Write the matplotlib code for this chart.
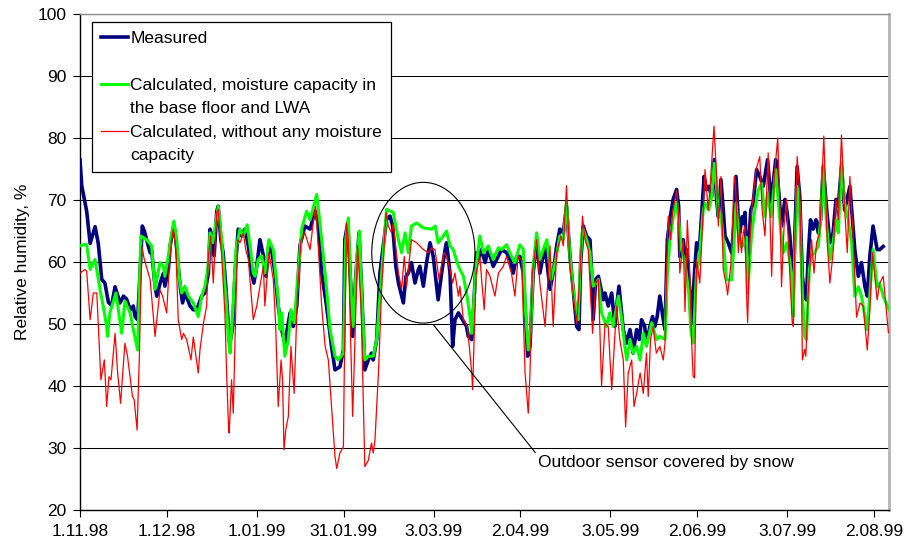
import numpy as np
import pandas as pd
import matplotlib
matplotlib.use("Agg")
import matplotlib.pyplot as plt
import matplotlib.dates as mdates
from matplotlib.patches import Ellipse
from matplotlib.lines import Line2D

plt.rcParams['font.family'] = ['Liberation Sans', 'DejaVu Sans']
FS = 12.5

# ---------------- data (days after 1.11.1998, relative humidity %) ----------------
start_date = "1998-11-01"

meas_day = [0.0, 0.6, 2.3, 3.5, 5.2, 6.3, 7.5, 8.6, 9.8, 10.9, 12.1, 13.8, 15.0, 16.1, 17.3, 18.4, 19.0, 19.9, 20.7, 21.5,
            22.2, 23.0, 24.2, 24.7, 25.9, 26.5, 27.6, 28.8, 29.3, 30.5, 31.1, 32.4, 33.1, 33.9, 34.7, 35.4, 36.2, 38.0, 39.1, 40.3,
            42.0, 43.1, 44.3, 44.9, 45.8, 46.3, 47.2, 47.7, 48.6, 49.4, 50.4, 51.2, 52.0, 52.7, 53.5, 54.6, 55.8, 56.9, 58.1, 59.2,
            60.0, 61.0, 62.1, 63.3, 64.2, 65.2, 66.1, 67.3, 68.4, 69.6, 70.7, 71.3, 72.5, 73.6, 74.8, 75.9, 77.6, 79.4, 81.1, 82.2,
            83.4, 85.1, 86.8, 88.0, 89.7, 90.9, 91.4, 92.4, 93.5, 94.1, 95.1, 96.3, 97.2, 98.3, 99.5, 100.6, 101.2, 102.4, 103.5, 105.8,
            107.0, 107.9, 109.0, 109.9, 111.6, 112.5, 113.3, 114.4, 115.6, 116.8, 117.3, 118.5, 119.6, 120.8, 121.9, 123.6, 124.8, 126.0, 126.5, 127.7,
            128.6, 129.4, 130.6, 133.4, 134.0, 135.2, 136.9, 137.5, 138.6, 139.8, 140.9, 142.6, 143.8, 145.5, 147.2, 148.4, 149.5, 150.7, 151.8, 153.0,
            154.5, 155.3, 156.4, 157.6, 158.7, 160.5, 162.2, 163.3, 164.5, 165.6, 166.8, 167.9, 169.1, 170.2, 171.4, 172.2, 172.8, 173.7, 174.8, 176.0,
            176.6, 177.1, 178.0, 178.9, 179.4, 180.6, 181.2, 182.3, 183.5, 184.6, 185.2, 186.0, 186.7, 187.5, 188.6, 189.8, 190.4, 190.9, 192.1, 193.0,
            193.8, 194.9, 195.5, 196.7, 197.6, 198.4, 199.2, 200.1, 201.3, 201.9, 202.7, 203.6, 204.7, 205.9, 206.6, 207.0, 208.2, 208.9, 209.3, 210.5,
            211.1, 212.0, 212.8, 213.4, 213.9, 215.4, 216.2, 217.0, 218.0, 218.9, 219.7, 220.3, 221.2, 222.0, 222.6, 223.7, 224.9, 225.8, 226.4, 227.2,
            227.7, 228.5, 228.9, 229.5, 230.0, 230.4, 231.5, 232.3, 233.5, 234.6, 235.8, 237.3, 238.5, 240.1, 240.7, 242.1, 243.3, 243.9, 245.0, 245.5,
            246.2, 246.8, 247.5, 248.4, 249.3, 250.1, 250.7, 251.3, 252.1, 253.0, 254.0, 254.8, 255.6, 256.5, 257.7, 258.8, 259.9, 260.9, 261.7, 262.8,
            263.9, 265.7, 267.4, 268.6, 269.7, 270.9, 271.7, 272.6, 273.7, 275.1, 276.0, 277.2]
meas_rh = [76.5, 72.3, 68.2, 63.0, 65.7, 63.0, 57.2, 56.6, 53.5, 53.0, 56.0, 53.4, 54.5, 54.0, 52.3, 52.9, 51.2, 50.7, 58.0, 65.8,
           65.0, 63.6, 61.5, 62.0, 56.0, 54.5, 56.5, 58.2, 56.1, 58.8, 62.6, 66.0, 63.6, 59.3, 55.6, 53.4, 55.0, 52.9, 52.3, 52.3,
           54.5, 55.0, 58.2, 65.3, 63.6, 61.0, 68.2, 69.0, 63.6, 61.5, 55.6, 49.6, 47.5, 49.6, 58.2, 65.3, 64.2, 65.3, 62.6, 58.2,
           56.6, 59.3, 63.6, 61.0, 57.7, 63.1, 62.0, 58.2, 52.9, 49.1, 46.9, 48.5, 51.8, 49.6, 52.9, 62.6, 65.8, 65.3, 68.2, 66.3,
           58.2, 52.9, 46.4, 42.6, 43.1, 45.8, 63.6, 66.3, 55.6, 48.0, 57.2, 64.7, 55.6, 42.6, 44.2, 45.3, 44.2, 47.5, 58.2, 66.9,
           67.4, 65.8, 59.3, 56.6, 53.4, 57.7, 58.2, 59.9, 56.6, 58.8, 59.3, 56.1, 59.9, 63.1, 60.9, 53.9, 58.2, 62.0, 63.1, 58.2,
           46.4, 50.7, 51.8, 49.6, 48.0, 47.5, 61.5, 60.4, 62.0, 59.9, 62.0, 59.3, 60.4, 62.0, 61.5, 60.4, 58.2, 60.9, 60.9, 58.2,
           44.8, 46.4, 58.2, 63.6, 58.2, 62.6, 55.6, 58.2, 62.6, 65.3, 64.7, 69.0, 60.9, 55.6, 49.6, 49.1, 60.0, 65.8, 64.2, 63.6,
           58.2, 50.7, 57.2, 57.7, 56.6, 53.9, 55.0, 52.9, 55.0, 49.6, 52.9, 56.1, 52.9, 49.1, 46.9, 49.1, 47.5, 45.3, 49.1, 47.5,
           50.7, 49.6, 46.9, 49.6, 51.2, 49.6, 51.2, 54.5, 50.7, 49.1, 63.6, 66.9, 70.1, 71.7, 69.0, 60.9, 63.6, 60.4, 62.0, 55.0,
           50.2, 57.7, 63.1, 62.0, 63.1, 73.8, 71.7, 72.2, 70.6, 76.5, 70.1, 67.3, 73.3, 68.4, 64.2, 63.1, 61.5, 66.8, 73.8, 66.8,
           64.7, 67.3, 66.3, 68.0, 62.0, 59.3, 68.4, 69.5, 74.9, 73.8, 72.2, 76.5, 69.5, 76.5, 73.8, 65.8, 70.1, 68.4, 64.2, 60.0,
           56.0, 65.8, 75.4, 70.6, 57.7, 54.5, 53.9, 60.9, 66.8, 65.3, 66.8, 64.7, 66.8, 75.4, 68.4, 63.1, 64.7, 70.1, 69.0, 75.4,
           68.4, 72.2, 62.0, 57.7, 59.9, 56.0, 54.5, 61.0, 65.8, 62.0, 62.0, 62.5]

cap_day = [0.0, 1.3, 2.3, 3.5, 5.2, 6.9, 8.0, 9.2, 9.5, 10.3, 12.4, 14.4, 15.5, 17.3, 18.4, 19.9, 21.0, 23.0, 24.7, 25.9,
           27.6, 28.8, 29.3, 30.5, 31.3, 32.4, 33.4, 34.3, 35.1, 36.2, 37.4, 39.1, 40.8, 42.0, 43.1, 44.1, 44.9, 45.8, 47.7, 48.9,
           49.7, 50.6, 51.2, 51.8, 52.7, 53.8, 55.2, 56.4, 57.7, 58.7, 59.8, 60.4, 61.5, 62.7, 63.8, 65.2, 66.7, 68.4, 69.0, 69.6,
           70.7, 71.9, 72.8, 73.9, 75.3, 76.5, 78.2, 79.4, 81.7, 82.8, 84.0, 85.1, 86.3, 88.0, 89.1, 90.9, 91.7, 92.6, 93.5, 94.3,
           95.5, 96.4, 97.4, 98.3, 99.5, 101.2, 102.4, 104.1, 105.8, 107.0, 108.1, 109.9, 111.0, 112.2, 113.3, 114.4, 116.2, 118.5, 121.4, 122.6,
           123.6, 125.4, 126.5, 127.7, 128.8, 130.6, 132.3, 133.4, 134.6, 135.2, 136.7, 138.0, 139.2, 140.9, 142.6, 144.4, 145.5, 147.2, 148.9, 150.1,
           151.8, 153.0, 153.8, 154.7, 155.6, 156.4, 157.6, 158.7, 161.1, 162.6, 164.0, 165.6, 166.8, 167.9, 169.1, 170.2, 171.4, 171.9, 172.6, 173.2,
           173.7, 174.8, 176.0, 177.1, 178.3, 178.9, 180.0, 181.7, 182.8, 184.0, 185.8, 187.0, 188.0, 188.7, 189.8, 190.9, 192.1, 193.3, 194.4, 195.5,
           197.3, 199.0, 200.1, 201.9, 202.7, 203.6, 205.3, 205.9, 206.8, 207.6, 208.8, 210.1, 210.8, 211.6, 212.8, 213.6, 215.1, 215.7, 217.0, 218.0,
           218.9, 219.7, 220.3, 221.2, 222.3, 223.1, 224.9, 225.8, 226.4, 227.2, 228.3, 229.2, 230.0, 230.4, 231.8, 232.9, 234.1, 235.2, 236.4, 237.3,
           238.5, 240.1, 241.7, 242.7, 243.9, 245.0, 245.6, 246.2, 246.7, 247.5, 248.4, 249.3, 250.1, 250.7, 251.7, 252.5, 253.5, 254.8, 255.6, 256.5,
           257.7, 258.8, 259.9, 260.9, 261.7, 262.8, 263.9, 265.1, 266.3, 267.4, 268.6, 269.7, 270.9, 271.7, 272.6, 273.7, 275.1, 276.0, 277.2, 279.2]
cap_rh = [62.6, 62.8, 62.8, 58.8, 60.4, 55.6, 52.9, 49.6, 48.0, 51.8, 55.0, 48.5, 53.7, 51.8, 49.1, 45.8, 64.2, 63.6, 62.6, 55.6,
          59.9, 59.3, 57.7, 61.0, 63.6, 66.6, 63.6, 57.2, 55.0, 56.1, 54.5, 53.4, 51.2, 54.5, 56.1, 58.8, 64.7, 63.1, 69.0, 63.6,
          58.2, 52.9, 47.5, 45.3, 51.8, 62.0, 65.3, 64.2, 66.0, 62.6, 58.2, 57.7, 60.4, 61.0, 58.2, 63.6, 62.0, 54.0, 49.1, 51.8,
          44.8, 47.5, 52.3, 50.2, 58.2, 65.3, 68.2, 66.8, 70.9, 66.3, 60.9, 55.6, 49.1, 44.8, 44.2, 45.3, 63.6, 67.1, 55.6, 49.6,
          60.4, 65.0, 52.9, 44.2, 44.8, 44.8, 47.5, 58.2, 68.5, 68.2, 68.0, 63.6, 61.5, 64.7, 61.5, 65.8, 66.3, 65.5, 65.3, 65.8,
          63.1, 64.2, 65.0, 62.6, 62.0, 59.3, 57.7, 55.0, 51.2, 48.5, 59.3, 64.2, 61.5, 62.6, 60.4, 62.3, 62.0, 62.8, 60.9, 59.9,
          62.8, 62.0, 51.8, 45.8, 49.6, 59.3, 64.7, 60.4, 63.6, 57.2, 59.9, 64.2, 63.6, 69.6, 60.9, 55.6, 51.8, 50.7, 59.0, 64.5,
          65.3, 63.6, 61.5, 56.1, 56.6, 57.2, 51.8, 49.6, 51.8, 49.6, 54.5, 50.7, 46.4, 44.2, 47.5, 45.3, 46.4, 44.2, 48.5, 46.4,
          50.2, 47.5, 48.0, 47.5, 58.2, 63.6, 69.0, 69.6, 65.8, 62.0, 59.9, 55.0, 49.1, 46.9, 58.8, 59.9, 68.4, 69.5, 68.4, 70.6,
          75.9, 72.2, 67.3, 67.8, 61.9, 57.1, 57.1, 63.6, 69.5, 65.1, 62.4, 62.9, 64.0, 55.0, 64.7, 68.4, 71.6, 72.7, 67.3, 71.1,
          67.3, 74.9, 65.8, 61.5, 63.1, 60.0, 57.7, 51.2, 62.0, 72.2, 68.4, 55.0, 48.0, 47.5, 58.8, 61.0, 61.5, 62.6, 66.8, 75.4,
          65.8, 60.4, 63.1, 66.8, 64.7, 76.0, 69.5, 66.8, 63.1, 54.5, 56.0, 54.5, 51.2, 49.1, 55.0, 62.0, 56.0, 56.6, 54.5, 52.3]

nocap_day = [0.0, 1.7, 2.3, 3.5, 4.6, 5.8, 7.2, 8.4, 9.2, 10.0, 10.7, 12.1, 13.0, 14.0, 15.5, 16.4, 18.1, 18.7, 19.7, 20.5,
             21.3, 22.2, 23.6, 24.2, 25.9, 27.6, 28.5, 29.9, 30.8, 31.6, 32.2, 33.1, 33.9, 35.1, 35.7, 36.8, 38.3, 39.1, 40.8, 41.4,
             42.6, 43.7, 44.3, 45.1, 46.0, 47.2, 47.7, 48.9, 50.0, 50.6, 51.3, 51.5, 52.3, 52.9, 53.5, 54.4, 55.2, 56.4, 57.2, 58.1,
             59.8, 61.0, 62.1, 63.3, 63.8, 65.2, 66.7, 67.5, 68.4, 69.4, 69.9, 70.4, 71.0, 71.9, 72.8, 73.9, 75.1, 76.3, 77.6, 79.4,
             80.5, 81.3, 82.3, 83.4, 84.6, 85.7, 86.8, 88.0, 88.6, 89.7, 90.9, 91.2, 92.0, 92.6, 93.4, 94.1, 94.9, 95.8, 97.0, 98.3,
             99.5, 100.6, 101.2, 101.8, 103.0, 104.1, 105.6, 106.4, 107.5, 108.1, 109.9, 111.0, 111.9, 112.7, 114.4, 116.2, 118.5, 120.2, 121.4, 122.5,
             123.9, 125.6, 126.5, 127.7, 128.6, 129.4, 130.6, 131.1, 132.3, 133.7, 135.2, 135.5, 136.7, 138.0, 138.6, 139.5, 140.3, 141.5, 143.2, 144.4,
             146.1, 147.2, 148.9, 150.1, 151.2, 152.4, 153.6, 154.7, 155.3, 156.1, 157.6, 158.7, 160.5, 162.2, 163.3, 164.5, 166.0, 166.8, 167.9, 169.1,
             170.2, 171.4, 172.6, 173.4, 174.3, 175.4, 176.9, 178.0, 178.9, 180.0, 181.2, 182.3, 183.5, 185.2, 186.3, 187.5, 188.3, 189.2, 190.4, 191.2,
             192.1, 193.3, 194.4, 195.5, 196.1, 196.9, 197.8, 198.9, 200.1, 201.3, 201.9, 202.7, 203.0, 203.8, 204.5, 205.9, 206.6, 207.0, 208.2, 208.8,
             209.6, 210.5, 211.1, 211.6, 212.1, 212.8, 213.9, 215.1, 215.7, 216.8, 217.4, 218.8, 219.7, 220.3, 221.2, 222.0, 223.1, 223.5, 224.6, 225.8,
             226.2, 227.2, 227.7, 228.3, 228.9, 229.5, 230.0, 230.4, 231.2, 231.8, 233.3, 234.6, 235.4, 236.4, 237.5, 238.7, 239.6, 240.8, 241.6, 242.1,
             243.0, 243.8, 245.0, 245.8, 246.2, 246.7, 247.5, 248.4, 248.9, 249.3, 250.1, 250.5, 251.3, 252.5, 253.3, 254.2, 255.3, 256.7, 257.9, 258.8,
             259.9, 260.9, 261.7, 262.8, 263.9, 264.8, 265.7, 266.9, 268.0, 269.2, 270.3, 271.7, 272.6, 273.5, 275.1, 276.0, 277.2, 279.0]
nocap_rh = [58.2, 58.8, 58.5, 50.7, 55.0, 55.0, 41.0, 44.2, 36.7, 41.5, 41.0, 48.5, 42.1, 37.2, 46.9, 44.8, 38.3, 37.8, 32.9, 45.0,
            62.6, 60.4, 58.2, 57.2, 48.0, 55.5, 54.5, 51.8, 59.3, 63.6, 65.3, 62.0, 50.7, 47.5, 48.5, 47.5, 44.2, 47.9, 42.1, 45.8,
            50.1, 52.9, 61.0, 64.2, 56.6, 68.0, 68.5, 61.0, 51.8, 42.1, 32.9, 32.4, 41.0, 35.6, 47.5, 63.6, 63.1, 64.7, 62.0, 60.4,
            50.7, 52.9, 56.1, 59.3, 52.9, 61.5, 57.2, 50.1, 36.7, 44.2, 41.0, 29.7, 32.9, 35.1, 46.4, 38.8, 55.6, 63.6, 64.7, 62.0,
            66.3, 69.0, 62.0, 52.9, 46.4, 44.2, 36.7, 28.6, 26.7, 29.2, 30.2, 42.1, 66.3, 63.6, 47.5, 35.1, 47.5, 62.6, 52.9, 27.0,
            28.0, 30.8, 29.2, 31.3, 42.1, 55.6, 68.0, 65.8, 64.7, 66.3, 58.2, 55.6, 60.9, 56.1, 63.6, 63.1, 62.0, 61.5, 62.3, 62.0,
            57.2, 61.5, 60.9, 58.8, 56.6, 58.2, 54.5, 56.1, 50.7, 49.6, 42.1, 39.4, 58.2, 60.9, 57.2, 52.3, 58.8, 57.7, 54.5, 58.2,
            59.3, 60.9, 58.2, 54.5, 60.9, 60.4, 42.1, 35.6, 42.1, 58.2, 63.6, 56.6, 49.6, 62.6, 49.6, 61.5, 64.2, 62.6, 72.3, 59.3,
            55.0, 50.1, 58.2, 67.4, 63.6, 62.0, 48.5, 56.6, 57.2, 40.0, 50.1, 49.6, 39.4, 52.9, 47.5, 44.2, 33.4, 42.1, 44.2, 36.7,
            38.8, 42.1, 38.8, 45.3, 38.3, 47.5, 49.6, 45.3, 46.4, 44.2, 47.0, 63.6, 67.4, 63.6, 68.0, 71.5, 67.4, 58.2, 63.6, 52.0,
            66.7, 57.7, 46.9, 41.6, 41.3, 60.4, 56.6, 68.4, 74.9, 68.4, 71.6, 81.9, 73.8, 65.8, 73.8, 58.8, 56.2, 54.7, 59.5, 73.8,
            72.7, 61.5, 65.8, 61.5, 64.7, 65.8, 55.5, 50.2, 63.1, 68.4, 74.9, 77.0, 68.4, 64.2, 77.6, 57.7, 73.8, 80.0, 68.4, 56.0,
            65.8, 70.1, 57.7, 50.2, 49.6, 63.1, 77.0, 71.1, 60.4, 44.2, 45.9, 44.8, 55.0, 63.6, 58.2, 63.1, 64.7, 80.3, 63.1, 56.6,
            61.5, 70.1, 66.8, 80.5, 68.4, 61.5, 73.8, 63.1, 51.1, 53.4, 52.9, 45.8, 52.3, 61.5, 53.9, 56.6, 57.7, 48.6]

tick_dates = ["1998-11-01", "1998-12-01", "1999-01-01", "1999-01-31", "1999-03-03",
              "1999-04-02", "1999-05-03", "1999-06-02", "1999-07-03", "1999-08-02"]
tick_labels = ["1.11.98", "1.12.98", "1.01.99", "31.01.99", "3.03.99",
               "2.04.99", "3.05.99", "2.06.99", "3.07.99", "2.08.99"]
y_ticks = [20, 30, 40, 50, 60, 70, 80, 90, 100]

series_labels = ["Measured",
                 "Calculated, moisture capacity in",
                 "the base floor and LWA",
                 "Calculated, without any moisture",
                 "capacity"]
annotation_text = "Outdoor sensor covered by snow"

# ---------------- helpers ----------------
t0 = pd.Timestamp(start_date)


def to_dates(days):
    return t0 + pd.to_timedelta(np.asarray(days, dtype=float), unit="D")


def dnum(day):
    return mdates.date2num(t0 + pd.Timedelta(days=day))


# ---------------- figure ----------------
fig = plt.figure(figsize=(9.06, 5.5), dpi=100)
ax = fig.add_axes([80 / 906, 40 / 550, 809 / 906, 496 / 550])

l_meas, = ax.plot(to_dates(meas_day), meas_rh, color="#000080", lw=2.6, zorder=3,
                  solid_joinstyle="round")
l_cap, = ax.plot(to_dates(cap_day), cap_rh, color="#00FF00", lw=2.2, zorder=4,
                 solid_joinstyle="round")
l_nocap, = ax.plot(to_dates(nocap_day), nocap_rh, color="#FF0000", lw=0.9, zorder=5)

ax.set_xlim(dnum(0), dnum(279.2))
ax.set_ylim(20, 100)
ax.set_yticks(y_ticks)
ax.set_xticks([mdates.date2num(pd.Timestamp(d)) for d in tick_dates])
ax.set_xticklabels(tick_labels)

ax.set_axisbelow(True)
ax.grid(axis="y", color="black", lw=0.75)
ax.grid(axis="x", visible=False)

for s in ("left", "bottom"):
    ax.spines[s].set_color("black")
    ax.spines[s].set_linewidth(1.0)
ax.spines["top"].set_color("#8c8c8c")
ax.spines["top"].set_linewidth(1.0)
ax.spines["right"].set_color("#b4b4b4")
ax.spines["right"].set_linewidth(2.0)

ax.tick_params(axis="both", direction="out", length=5, width=0.8, colors="black",
               labelsize=FS)
ax.tick_params(axis="y", pad=4.5)
ax.tick_params(axis="x", pad=5)

ax.set_ylabel("Relative humidity, %", fontsize=FS)
ax.yaxis.set_label_coords(-0.062, 0.5)

# ellipse + annotation
ell = Ellipse((dnum(118.5), 61.5), width=35.6, height=22.7, fill=False,
              edgecolor="black", lw=0.8, zorder=6)
ax.add_patch(ell)
ax.annotate(annotation_text, xy=(dnum(122.1), 49.8), xytext=(dnum(157.9), 27.6),
            fontsize=FS, ha="left", va="center",
            arrowprops=dict(arrowstyle="-", color="black", lw=0.8,
                            relpos=(0, 1), shrinkA=0, shrinkB=0), zorder=7)

# legend (multi-line labels split into rows so the key sits on the first line)
blank = Line2D([], [], color="none")
handles = [l_meas, blank, l_cap, blank, l_nocap, blank]
labels = [series_labels[0], " ", series_labels[1], series_labels[2],
          series_labels[3], series_labels[4]]
leg = ax.legend(handles, labels, loc="upper left",
                bbox_to_anchor=(12 / 809, 488 / 496), borderaxespad=0,
                fontsize=FS, frameon=True, fancybox=False, shadow=False,
                framealpha=1, edgecolor="black", labelspacing=0.48,
                handlelength=1.6, handletextpad=0.1, borderpad=0.5)
leg.get_frame().set_linewidth(0.9)
leg.set_zorder(10)

fig.savefig("out.png", dpi=100)
